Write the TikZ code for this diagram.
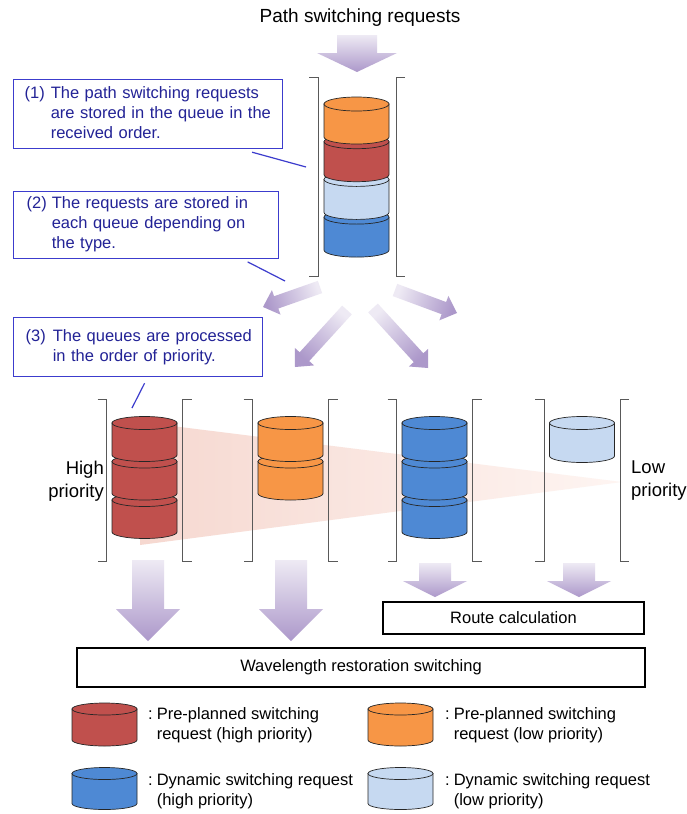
\documentclass[tikz,border=0pt]{standalone}
\usepackage{fontspec}
\setmainfont{Liberation Sans}
\usepackage{tikz}
\usetikzlibrary{calc}
\usepackage{xcolor}

\definecolor{reqred}{RGB}{192,80,77}
\definecolor{reqorange}{RGB}{247,150,70}
\definecolor{reqblue}{RGB}{78,137,212}
\definecolor{reqlight}{RGB}{198,217,241}
\definecolor{noteframe}{RGB}{60,60,205}
\definecolor{notetext}{RGB}{35,35,150}
\definecolor{arrowlight}{RGB}{238,234,244}
\definecolor{arrowdark}{RGB}{172,152,202}
\definecolor{wedgeleft}{RGB}{246,216,208}
\definecolor{wedgeright}{RGB}{254,245,242}

\tikzset{
  drumline/.style={draw=black!85, line width=0.7pt},
  bracketline/.style={draw=black!65, line width=1pt},
  note/.style={draw=noteframe, line width=1.2pt, text=notetext, align=left,
    font=\fontsize{16.5}{20}\selectfont, anchor=north west},
  pointer/.style={draw=noteframe, line width=1.2pt},
  plainbox/.style={draw=black, line width=1.5pt, font=\fontsize{16.5}{20}\selectfont},
  prio/.style={font=\fontsize{18.5}{23}\selectfont, inner sep=0pt},
  legend/.style={font=\fontsize{16.5}{20}\selectfont, anchor=west, inner sep=0pt}
}

% one drum: centre x, top y, body height, colour, y radius
\newcommand{\drum}[5]{%
  \filldraw[drumline, fill=#4] (#1-32.5,#2) -- (#1-32.5,#2+#3)
    arc[start angle=180, end angle=360, x radius=32.5pt, y radius=#5pt] -- (#1+32.5,#2) -- cycle;
  \filldraw[drumline, fill=#4] (#1,#2) ellipse[x radius=32.5pt, y radius=#5pt];
}

% pair of brackets: centre x, half gap, top y, bottom y
\newcommand{\bracketpair}[4]{%
  \draw[bracketline] (#1-#2-9,#3) -- (#1-#2,#3) -- (#1-#2,#4) -- (#1-#2-9,#4);
  \draw[bracketline] (#1+#2+9,#3) -- (#1+#2,#3) -- (#1+#2,#4) -- (#1+#2+9,#4);
}

% block arrow: start, tip, shaft half width, head half width, head length, shading angle
\newcommand{\flowarrow}[6]{%
  \coordinate (fa-s) at #1;
  \coordinate (fa-t) at #2;
  \coordinate (fa-h) at ($(fa-t)!#5!(fa-s)$);
  \shade[top color=arrowlight, bottom color=arrowdark, shading angle=#6]
    ($(fa-s)!#3!90:(fa-t)$) -- ($(fa-h)!#3!90:(fa-t)$) -- ($(fa-h)!#4!90:(fa-t)$)
    -- (fa-t) -- ($(fa-h)!#4!-90:(fa-t)$) -- ($(fa-h)!#3!-90:(fa-t)$)
    -- ($(fa-s)!#3!-90:(fa-t)$) -- cycle;
}

\begin{document}
\begin{tikzpicture}[x=1pt, y=-1pt]

\useasboundingbox (0,0) rectangle (687,814);
\fill[white] (0,0) rectangle (687,814);

%for the priority wedge
\shade[left color=wedgeleft, right color=wedgeright] (140,422) -- (622,482) -- (140,545) -- cycle;

\node[font=\fontsize{19}{23}\selectfont] (title) at (360,18) {Path switching requests};

\flowarrow{(357,35)}{(357,72)}{20pt}{40pt}{19pt}{0}

% incoming queue
\bracketpair{357}{39}{77}{276}
\drum{356.5}{217.1}{33}{reqblue}{7}
\drum{356.5}{179.4}{33}{reqlight}{7}
\drum{356.5}{141.7}{33}{reqred}{7}
\drum{356.5}{104}{33}{reqorange}{7}

\flowarrow{(320,287)}{(263,307)}{6.5pt}{13pt}{14pt}{289.3}
\flowarrow{(347,310)}{(295,367)}{6.5pt}{13pt}{14pt}{317.6}
\flowarrow{(373,308)}{(428,368)}{6.5pt}{13pt}{14pt}{42.5}
\flowarrow{(395,290)}{(457,313)}{6.5pt}{13pt}{14pt}{69.6}

% the four typed queues
\bracketpair{144.5}{38}{399}{561}
\bracketpair{290.5}{38}{399}{561}
\bracketpair{434.5}{38}{399}{561}
\bracketpair{582}{38}{399}{561}

\foreach \k in {2,1,0} {\drum{144.5}{423+\k*38.5}{32}{reqred}{6.5}}
\foreach \k in {1,0} {\drum{290.5}{423+\k*38.5}{32}{reqorange}{6.5}}
\foreach \k in {2,1,0} {\drum{434.5}{423+\k*38.5}{32}{reqblue}{6.5}}
\drum{582}{423}{33}{reqlight}{6.5}

\node[prio, align=right, anchor=east] (high) at (104,481) {High\\priority};
\node[prio, align=left, anchor=west] (low) at (631,481) {Low\\priority};

% notes
\node[note, text width=247pt, inner xsep=11pt, minimum height=69pt] (note1) at (13,79)
  {\noindent\begin{tabular}{@{}l@{\hspace{6pt}}l@{}}(1)&The path switching requests\\&are stored in the queue in the\\&received order.\end{tabular}};
\node[note, text width=239pt, inner xsep=13pt, minimum height=63pt] (note2) at (13,191)
  {\noindent\begin{tabular}{@{}l@{\hspace{5pt}}l@{}}(2)&The requests are stored in\\&each queue depending on\\&the type.\end{tabular}};
\node[note, text width=225pt, inner xsep=12pt, minimum height=59pt] (note3) at (13,317)
  {\noindent\begin{tabular}{@{}l@{\hspace{7pt}}l@{}}(3)&The queues are processed\\&in the order of priority.\end{tabular}};

\draw[pointer] ([shift={(104,3)}]note1.south) -- (306,167);
\draw[pointer] ([shift={(101.5,3)}]note2.south) -- (285,281);
\draw[pointer] ([shift={(6.5,6)}]note3.south) -- (132,408);

% processing
\flowarrow{(148,560)}{(148,641)}{16pt}{32pt}{32pt}{0}
\flowarrow{(291,560)}{(291,641)}{16pt}{32pt}{32pt}{0}
\flowarrow{(435,563)}{(435,597)}{16pt}{32pt}{16pt}{0}
\flowarrow{(579,563)}{(579,597)}{16pt}{32pt}{16pt}{0}

\node[plainbox, minimum width=261pt, minimum height=32pt] (route) at (513.5,618) {Route calculation};
\node[plainbox, minimum width=568pt, minimum height=39pt] (wave) at (361,667.5) {Wavelength restoration switching};

% legend
\drum{104.5}{709}{31}{reqred}{6}
\drum{400.5}{709}{31}{reqorange}{6}
\drum{104.5}{773.5}{30}{reqblue}{6}
\drum{400.5}{773.5}{30}{reqlight}{6}

\node[legend] (lg1) at (148,725) {\begin{tabular}{@{}l@{\hspace{4pt}}l@{}}:&Pre-planned switching\\&request (high priority)\end{tabular}};
\node[legend] (lg2) at (445,725) {\begin{tabular}{@{}l@{\hspace{4pt}}l@{}}:&Pre-planned switching\\&request (low priority)\end{tabular}};
\node[legend] (lg3) at (148,791.5) {\begin{tabular}{@{}l@{\hspace{4pt}}l@{}}:&Dynamic switching request\\&(high priority)\end{tabular}};
\node[legend] (lg4) at (445,791.5) {\begin{tabular}{@{}l@{\hspace{4pt}}l@{}}:&Dynamic switching request\\&(low priority)\end{tabular}};

\end{tikzpicture}
\end{document}
